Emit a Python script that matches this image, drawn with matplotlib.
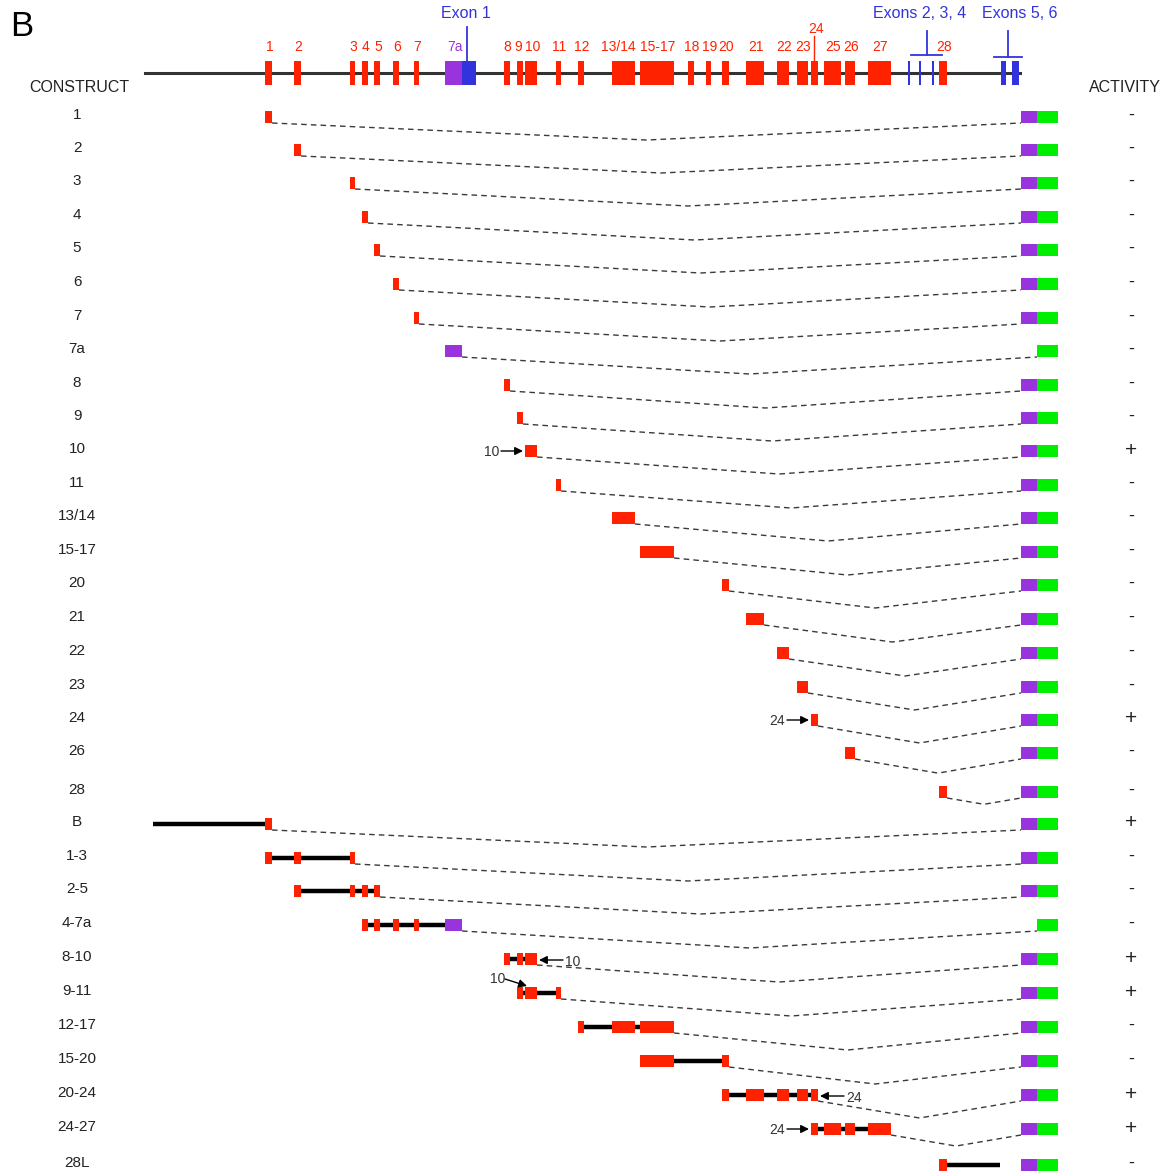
import matplotlib.pyplot as plt
from matplotlib.patches import Rectangle

plt.rcParams['font.family'] = ['Liberation Sans', 'DejaVu Sans']

RED = '#ff2200'
PURPLE = '#9933dd'
BLUE = '#3333dd'
GREEN = '#00ee00'

# gene map: exon name, start, end (drawing units along the gene)
exon_names = ['1', '2', '3', '4', '5', '6', '7', '7a', '8', '9', '10', '11', '12',
              '13/14', '15-17', '18', '19', '20', '21', '22', '23', '24', '25', '26', '27', '28']
exon_start = [265, 294, 350, 362, 374, 393, 414, 445, 504, 517, 525, 556, 578,
              612, 640, 688, 706, 722, 746, 777, 797, 811, 824, 845, 868, 939]
exon_end = [272, 301, 355, 368, 380, 399, 419, 462, 510, 523, 537, 561, 584,
            635, 674, 694, 711, 729, 764, 789, 808, 818, 841, 855, 891, 947]

# coding exons (blue)
coding_names = ['1', '2', '3', '4', '5', '6']
coding_start = [462, 908, 919, 932, 1001, 1012]
coding_end = [476, 910, 921, 934, 1006, 1019]

# constructs
construct_names = ['1', '2', '3', '4', '5', '6', '7', '7a', '8', '9', '10', '11', '13/14', '15-17',
                   '20', '21', '22', '23', '24', '26', '28', 'B', '1-3', '2-5', '4-7a', '8-10',
                   '9-11', '12-17', '15-20', '20-24', '24-27', '28L']
construct_exons = [['1'], ['2'], ['3'], ['4'], ['5'], ['6'], ['7'], ['7a'], ['8'], ['9'], ['10'],
                   ['11'], ['13/14'], ['15-17'], ['20'], ['21'], ['22'], ['23'], ['24'], ['26'],
                   ['28'], ['1'], ['1', '2', '3'], ['2', '3', '4', '5'],
                   ['4', '5', '6', '7', '7a'], ['8', '9', '10'], ['9', '10', '11'],
                   ['12', '13/14', '15-17'], ['15-17', '20'], ['20', '21', '22', '23', '24'],
                   ['24', '25', '26', '27'], ['28']]
activity = ['-', '-', '-', '-', '-', '-', '-', '-', '-', '-', '+', '-', '-', '-', '-', '-', '-',
            '-', '+', '-', '-', '+', '-', '-', '-', '+', '+', '-', '-', '+', '+', '-']
# flanking sequence beyond the exons
extend_left = {'B': 153}
extend_right = {'28L': 1000}
# labelled exons inside a construct: (construct, exon label, side)
callouts = [('10', '10', 'left'), ('24', '24', 'left'), ('8-10', '10', 'right'),
            ('9-11', '10', 'above'), ('20-24', '24', 'right'), ('24-27', '24', 'left')]

row_y = [117, 150, 183, 217, 250, 284, 318, 351, 385, 418, 451, 485, 518, 552, 585, 619, 653,
         687, 720, 753, 792, 824, 858, 891, 925, 959, 993, 1027, 1061, 1095, 1129, 1165]

start = dict(zip(exon_names, exon_start))
end = dict(zip(exon_names, exon_end))
label_shift = {'13/14': -6, '8': -1, '9': -3, '10': 1}

fig = plt.figure(figsize=(11.72, 11.73), dpi=100)
ax = fig.add_axes([0, 0, 1, 1])
ax.set_xlim(0, 1172)
ax.set_ylim(1173, 0)
ax.axis('off')

# ---- header gene map
ax.text(10, 26, 'B', fontsize=25, va='center', ha='left')
ax.plot([145, 1020], [73, 73], color='#333333', lw=2.2, zorder=1)
for n, s, e in zip(exon_names, exon_start, exon_end):
    col = PURPLE if n == '7a' else RED
    ax.add_patch(Rectangle((s, 61), e - s, 24, color=col, lw=0, zorder=2))
    if n == '24':
        ax.plot([(s + e) / 2 - 0.5] * 2, [36, 61], color=RED, lw=1, zorder=2)
        ax.text((s + e) / 2 + 2, 29, n, color=RED, fontsize=10, ha='center', va='center')
    else:
        ax.text((s + e) / 2 + 1 + label_shift.get(n, 0), 47, n, color=col, fontsize=10,
                ha='center', va='center')
for n, s, e in zip(coding_names, coding_start, coding_end):
    ax.add_patch(Rectangle((s, 61), e - s, 24, color=BLUE, lw=0, zorder=2))

ax.text(466, 14, 'Exon 1', color=BLUE, fontsize=11.5, ha='center', va='center')
ax.plot([467, 467], [27, 61], color=BLUE, lw=1.3)
ax.text(920, 14, 'Exons 2, 3, 4', color=BLUE, fontsize=11.5, ha='center', va='center')
ax.plot([927, 927], [31, 55], color=BLUE, lw=1.3)
ax.plot([911, 942], [55, 55], color=BLUE, lw=1.3)
ax.text(1020, 14, 'Exons 5, 6', color=BLUE, fontsize=11.5, ha='center', va='center')
ax.plot([1008, 1008], [31, 57], color=BLUE, lw=1.3)
ax.plot([994, 1022], [57, 57], color=BLUE, lw=1.3)

ax.text(79, 87, 'CONSTRUCT', fontsize=11.5, ha='center', va='center', color='#222222')
ax.text(1125, 87, 'ACTIVITY', fontsize=11.5, ha='center', va='center', color='#222222')

# ---- constructs
h = 12
for name, exons, act, y in zip(construct_names, construct_exons, activity, row_y):
    ax.text(77, y - 2, name, fontsize=11, ha='center', va='center', color='#222222')
    if act == '+':
        ax.text(1131, y - 1, act, fontsize=15, ha='center', va='center', color='#222222')
    else:
        ax.text(1131, y - 2, act, fontsize=13, ha='center', va='center', color='#222222')

    left = extend_left.get(name, start[exons[0]])
    right = extend_right.get(name, end[exons[-1]])
    if len(exons) > 1 or name in extend_left or name in extend_right:
        ax.plot([left, right], [y, y], color='black', lw=3.2, solid_capstyle='butt', zorder=2)
    for ex in exons:
        col = PURPLE if ex == '7a' else RED
        ax.add_patch(Rectangle((start[ex], y - h / 2), end[ex] - start[ex], h,
                               color=col, lw=0, zorder=3))

    # reporter
    if exons[-1] == '7a':
        rep_x = 1037
    else:
        rep_x = 1021
        ax.add_patch(Rectangle((1021, y - h / 2), 16, h, color=PURPLE, lw=0, zorder=3))
    ax.add_patch(Rectangle((1037, y - h / 2), 21, h, color=GREEN, lw=0, zorder=3))

    # spliced connection
    if name not in extend_right:
        x0 = end[exons[-1]]
        span = rep_x - x0
        depth = min(17, 0.085 * span)
        ax.plot([x0, (x0 + rep_x) / 2, rep_x], [y + h / 2, y + h / 2 + depth, y + h / 2],
                color='#3a3a3a', lw=1.0, ls=(0, (4, 3)), zorder=1)

# ---- exon call-outs
rows = dict(zip(construct_names, row_y))
arrow = dict(arrowstyle='-|>', color='black', lw=1, mutation_scale=12, shrinkA=0, shrinkB=0)
for cname, lab, side in callouts:
    y = rows[cname]
    s, e = start[lab], end[lab]
    if side == 'left':
        ax.annotate('', xy=(s - 2, y), xytext=(s - 24, y), arrowprops=arrow)
        ax.text(s - 26, y + 1, lab, fontsize=10, ha='right', va='center', color='#333333')
    elif side == 'right':
        ax.annotate('', xy=(e + 2, y + 1), xytext=(e + 26, y + 1), arrowprops=arrow)
        ax.text(e + 28, y + 3, lab, fontsize=10, ha='left', va='center', color='#333333')
    else:
        ax.annotate('', xy=(s + 2, y - 7), xytext=(s - 20, y - 14), arrowprops=arrow)
        ax.text(s - 20, y - 14, lab, fontsize=10, ha='right', va='center', color='#333333')

plt.savefig('out.png', dpi=100)
